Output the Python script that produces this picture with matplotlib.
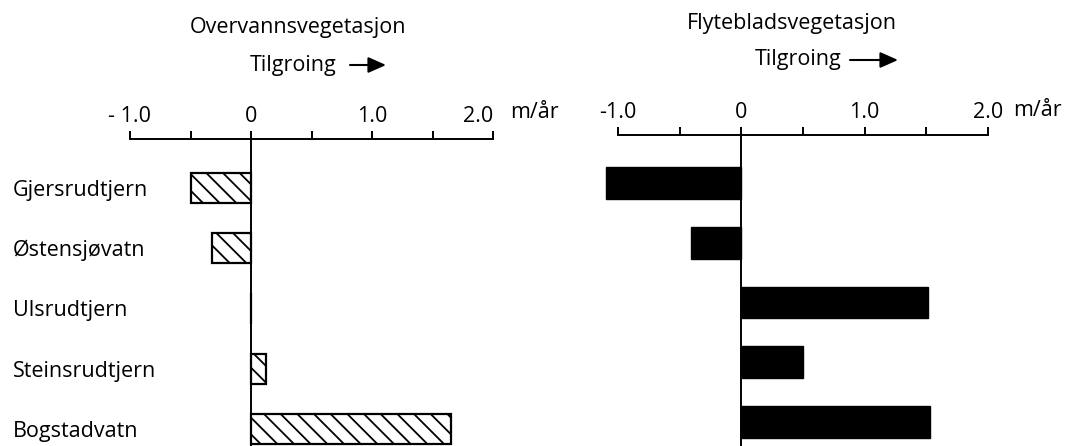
import matplotlib
matplotlib.use('Agg')
import matplotlib.pyplot as plt

# data (m/år)
lakes = ['Gjersrudtjern', 'Østensjøvatn', 'Ulsrudtjern', 'Steinsrudtjern', 'Bogstadvatn']
overvann = [-0.5, -0.32, 0.0, 0.12, 1.65]
flyteblad = [-1.1, -0.41, 1.51, 0.5, 1.53]

ticks_major = [-1.0, 0.0, 1.0, 2.0]
ticks_minor = [-0.5, 0.5, 1.5]
labels_left = ['- 1.0', '0', '1.0', '2.0']
labels_right = ['-1.0', '0', '1.0', '2.0']

plt.rcParams['font.family'] = ['Open Sans', 'DejaVu Sans']
plt.rcParams['hatch.linewidth'] = 1.3

W, H = 1068, 446
fig = plt.figure(figsize=(W / 100, H / 100), dpi=100)

XLIM = (-1.2, 2.05)

def px_axes(xm1, x2, ytop):
    # xm1, x2: pixel position of -1.0 and 2.0
    s = (x2 - xm1) / 3.0
    x0 = xm1 + (XLIM[0] + 1) * s
    x1 = x2 + (XLIM[1] - 2) * s
    return fig.add_axes([x0 / W, 0, (x1 - x0) / W, (H - ytop) / H])

ax1 = px_axes(130, 493, 139)
ax2 = px_axes(618, 988, 135)


def style(ax, labels):
    ax.set_xlim(*XLIM)
    for s in ['left', 'right', 'bottom']:
        ax.spines[s].set_visible(False)
    ax.spines['top'].set_linewidth(1.4)
    ax.spines['top'].set_bounds(-1, 2)
    ax.xaxis.set_ticks_position('top')
    ax.set_xticks(ticks_major, labels=labels)
    ax.set_xticks(ticks_minor, minor=True)
    ax.tick_params(axis='x', which='both', direction='out', length=6,
                   width=1.4, pad=3, labelsize=15.5)
    ax.axvline(0, color='black', lw=1.4, zorder=3)


# Overvannsvegetasjon: hatched bars
ax1.barh(range(len(lakes)), overvann, height=0.5, color='white',
         edgecolor='black', linewidth=1.6, hatch='\\\\', zorder=2)
style(ax1, labels_left)
ax1.get_xticklabels()[-1].set_horizontalalignment('right')
ax1.set_ylim(4.28, -0.81)
ax1.set_yticks(range(len(lakes)), labels=lakes)
ax1.tick_params(axis='y', length=0, pad=67, labelsize=15.5)
for t in ax1.get_yticklabels():
    t.set_horizontalalignment('left')

# Flytebladsvegetasjon: solid black bars
ax2.barh(range(len(lakes)), flyteblad, height=0.53, color='black',
         edgecolor='black', zorder=2)
style(ax2, labels_right)
ax2.set_ylim(4.40, -0.80)
ax2.set_yticks([])

# titles, unit and "Tilgroing" arrows (pixel positions from the top)
def ftext(x, y, s, **kw):
    fig.text(x / W, 1 - y / H, s, fontsize=15.5, va='center', **kw)

ftext(298, 28, 'Overvannsvegetasjon', ha='center')
ftext(792, 23, 'Flytebladsvegetasjon', ha='center')
ftext(510, 113, 'm/år', ha='left')
ftext(1013, 110, 'm/år', ha='left')

ftext(250, 65, 'Tilgroing', ha='left')
ftext(755, 60, 'Tilgroing', ha='left')
for x0, x1, y in [(350, 386, 65), (850, 898, 60)]:
    fig.add_artist(matplotlib.patches.FancyArrowPatch(
        (x0 / W, 1 - y / H), (x1 / W, 1 - y / H), transform=fig.transFigure,
        arrowstyle='-|>,head_length=0.9,head_width=0.4', color='black',
        lw=1.5, mutation_scale=12, shrinkA=0, shrinkB=0))

fig.savefig('out.png', dpi=100)
